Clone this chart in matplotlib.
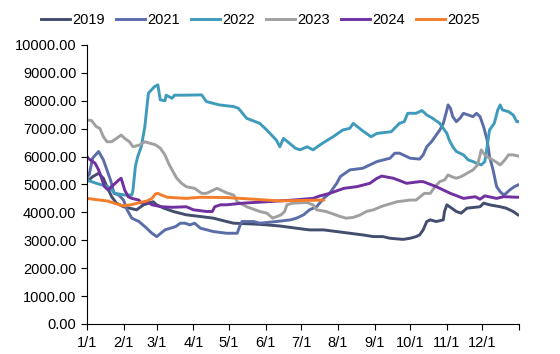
import matplotlib
matplotlib.use("Agg")
import matplotlib.pyplot as plt

plt.rcParams['font.family'] = ['Liberation Sans', 'DejaVu Sans']

# day of year (0 = Jan 1) and value for each year
d2019 = [0, 5, 10, 14, 17, 21, 25, 31, 36, 42, 48, 56, 59, 65, 73, 84, 96, 107, 118, 124, 141, 152, 163, 177, 188,
         200, 211, 222, 233, 242, 250, 256, 267, 273, 278, 281, 284, 287, 290, 295, 301, 302, 304, 308, 312, 316,
         321, 332, 335, 340, 349, 354, 360, 364]
v2019 = [5100, 5280, 5400, 5220, 4920, 4560, 4330, 4200, 4150, 4090, 4270, 4380, 4270, 4150, 4030, 3910, 3850, 3790,
         3670, 3610, 3580, 3550, 3510, 3430, 3370, 3370, 3310, 3250, 3190, 3130, 3130, 3070, 3030, 3070, 3130, 3190,
         3370, 3670, 3730, 3670, 3730, 4030, 4270, 4150, 4030, 3970, 4150, 4200, 4330, 4270, 4200, 4150, 4030, 3910]

d2021 = [0, 2, 5, 10, 14, 17, 20, 23, 27, 31, 34, 38, 44, 49, 55, 59, 66, 75, 79, 83, 87, 91, 96, 107, 118, 127, 129,
         131, 141, 146, 160, 172, 177, 183, 188, 194, 200, 205, 211, 214, 222, 233, 239, 245, 256, 260, 264, 273,
         281, 284, 287, 291, 295, 298, 301, 304, 305, 307, 309, 312, 315, 318, 326, 329, 332, 335, 338, 340, 343,
         346, 349, 352, 354, 357, 361, 364]
v2021 = [5250, 5350, 5950, 6180, 5880, 5520, 5160, 4680, 4620, 4440, 4090, 3790, 3670, 3490, 3250, 3130, 3370, 3490,
         3610, 3610, 3550, 3610, 3430, 3310, 3250, 3250, 3490, 3670, 3670, 3610, 3670, 3730, 3790, 3910, 4090, 4200,
         4500, 4680, 5040, 5280, 5520, 5580, 5700, 5820, 5940, 6120, 6120, 5940, 5910, 6060, 6350, 6530, 6770, 6950,
         7190, 7670, 7850, 7730, 7430, 7250, 7370, 7550, 7430, 7550, 7430, 7070, 6590, 6000, 5520, 4920, 4740, 4620,
         4680, 4800, 4920, 4980]

d2022 = [0, 8, 18, 24, 32, 38, 39, 41, 43, 46, 49, 52, 57, 60, 62, 66, 67, 72, 74, 83, 97, 101, 112, 124, 128, 135,
         146, 152, 160, 163, 166, 171, 176, 180, 186, 191, 197, 201, 208, 216, 222, 225, 232, 240, 245, 257, 264, 268,
         271, 278, 283, 287, 292, 298, 301, 304, 306, 309, 312, 318, 322, 326, 329, 333, 336, 337, 340, 342, 344, 347,
         349, 351, 356, 360, 363, 364]
v2022 = [5160, 5040, 4920, 4680, 4620, 4620, 4800, 5640, 6000, 6350, 7070, 8270, 8500, 8570, 8030, 8000, 8200, 8090,
         8200, 8200, 8210, 7970, 7850, 7790, 7730, 7370, 7190, 6950, 6590, 6350, 6650, 6480, 6300, 6240, 6350, 6240,
         6420, 6530, 6710, 6950, 7010, 7190, 6950, 6710, 6830, 6890, 7190, 7250, 7550, 7550, 7650, 7490, 7370, 7190,
         7010, 6830, 6590, 6350, 6180, 6060, 5880, 5820, 5760, 5700, 5820, 6060, 6950, 7070, 7190, 7670, 7850, 7670,
         7610, 7490, 7250, 7250]

d2023 = [0, 4, 8, 11, 14, 17, 21, 25, 29, 32, 36, 39, 45, 49, 53, 58, 62, 66, 69, 72, 76, 80, 84, 91, 97, 101, 110,
         118, 124, 127, 135, 146, 152, 157, 164, 167, 169, 174, 186, 191, 194, 202, 214, 219, 225, 231, 236, 242, 250,
         262, 273, 278, 285, 290, 294, 298, 302, 305, 308, 312, 316, 321, 326, 330, 333, 336, 340, 345, 349, 353, 356,
         360, 364]
v2023 = [7310, 7290, 7070, 7010, 6710, 6530, 6530, 6650, 6770, 6650, 6530, 6350, 6420, 6530, 6480, 6420, 6300, 6060,
         5760, 5520, 5220, 5040, 4920, 4860, 4680, 4680, 4860, 4700, 4620, 4380, 4200, 4030, 3970, 3790, 3910, 4030,
         4270, 4330, 4350, 4270, 4090, 4030, 3850, 3790, 3820, 3910, 4030, 4090, 4230, 4380, 4440, 4440, 4680, 4680,
         4920, 5100, 5160, 5340, 5280, 5220, 5280, 5400, 5520, 5700, 6240, 6060, 5940, 5820, 5700, 5880, 6060, 6060,
         6020]

d2024 = [0, 1, 7, 10, 13, 15, 18, 21, 27, 29, 32, 35, 38, 44, 46, 51, 55, 63, 72, 84, 90, 101, 106, 108, 113, 118,
         132, 152, 174, 191, 197, 205, 217, 228, 239, 245, 249, 259, 270, 281, 284, 295, 307, 318, 328, 332, 336, 346,
         352, 364]
v2024 = [6020, 5940, 5760, 5520, 5160, 4920, 4800, 4920, 5160, 5220, 4800, 4560, 4500, 4440, 4330, 4380, 4270, 4200,
         4180, 4200, 4090, 4030, 4030, 4200, 4270, 4270, 4330, 4380, 4440, 4500, 4590, 4680, 4860, 4920, 5040, 5220,
         5300, 5220, 5040, 5100, 5100, 4920, 4680, 4500, 4560, 4470, 4590, 4500, 4560, 4540]

d2025 = [0, 11, 17, 23, 31, 37, 45, 51, 55, 58, 60, 63, 68, 84, 96, 118, 141, 163, 200]
v2025 = [4500, 4440, 4410, 4330, 4230, 4270, 4350, 4410, 4500, 4660, 4680, 4620, 4540, 4500, 4540, 4530, 4470, 4410,
         4440]

month_starts = [0, 31, 59, 90, 120, 151, 181, 212, 243, 273, 304, 334, 365]
month_labels = ['1/1', '2/1', '3/1', '4/1', '5/1', '6/1', '7/1', '8/1', '9/1', '10/1', '11/1', '12/1', '']

fig = plt.figure(figsize=(5.6, 3.54), dpi=100)
ax = fig.add_axes([0.155, 0.085, 0.772, 0.788])

lw = 2.1
ax.plot(d2019, v2019, color='#434d6e', lw=lw, label='2019')
ax.plot(d2021, v2021, color='#5b6da8', lw=lw, label='2021')
ax.plot(d2022, v2022, color='#3f9bbb', lw=lw, label='2022')
ax.plot(d2023, v2023, color='#a0a0a0', lw=lw, label='2023')
ax.plot(d2024, v2024, color='#7030a0', lw=lw, label='2024')
ax.plot(d2025, v2025, color='#f47d2b', lw=lw, label='2025')

ax.set_xlim(0, 365)
ax.set_ylim(0, 10000)
ax.set_yticks(range(0, 10001, 1000))
ax.set_yticklabels([f'{t:.2f}' for t in range(0, 10001, 1000)])
ax.set_xticks(month_starts)
ax.set_xticklabels(month_labels)
ax.tick_params(labelsize=10.5, length=4, width=0.8, colors='black')
ax.tick_params(axis='x', pad=4.5)
ax.spines['top'].set_visible(False)
ax.spines['right'].set_visible(False)

fig.legend(loc='upper center', bbox_to_anchor=(0.465, 1.0), ncol=6, frameon=False,
           fontsize=10.5, handlelength=2.0, handletextpad=0.15, columnspacing=0.75)

fig.savefig('out.png', dpi=100)
